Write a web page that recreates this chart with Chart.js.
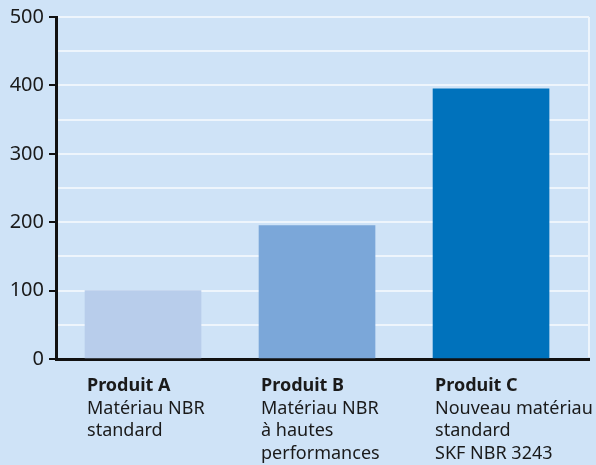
<!DOCTYPE html>
<html>
<head>
<meta charset="utf-8">
<script src="https://cdn.jsdelivr.net/npm/chart.js@4/dist/chart.umd.min.js"></script>
<style>
  html, body { margin: 0; padding: 0; background: #cfe3f7; }
  #wrap { width: 596px; height: 465px; position: relative; }
</style>
</head>
<body>
<div id="wrap"><canvas id="chart"></canvas></div>
<script>
const categories = ["Produit A", "Produit B", "Produit C"];
const descriptions = [
  ["Matériau NBR", "standard"],
  ["Matériau NBR", "à hautes", "performances"],
  ["Nouveau matériau", "standard", "SKF NBR 3243"]
];
const values = [100, 195, 395];
const yTicks = [0, 100, 200, 300, 400, 500];
const barColors = ["#b8cdeb", "#7ba7d9", "#0072bc"];

const FONT = "'Noto Sans', sans-serif";

// draws the two-style category labels and the white right edge
const extras = {
  id: "extras",
  afterDraw(chart) {
    const ctx = chart.ctx;
    const area = chart.chartArea;
    ctx.save();
    ctx.strokeStyle = "#eef5fc";
    ctx.lineWidth = 2;
    ctx.beginPath();
    ctx.moveTo(area.right, area.top);
    ctx.lineTo(area.right, area.bottom - 2);
    ctx.stroke();

    const meta = chart.getDatasetMeta(0);
    ctx.fillStyle = "#1a1a1a";
    ctx.textAlign = "left";
    ctx.textBaseline = "middle";
    categories.forEach((name, i) => {
      const bar = meta.data[i];
      const left = bar.x - bar.width / 2 + 2;
      let y = 386;
      ctx.font = "bold 18px " + FONT;
      ctx.fillText(name, left, y);
      ctx.font = "18px " + FONT;
      descriptions[i].forEach(line => {
        y += 22.5;
        ctx.fillText(line, left, y);
      });
    });
    ctx.restore();
  }
};

new Chart(document.getElementById("chart"), {
  type: "bar",
  data: {
    datasets: [{
      data: values.map((v, i) => ({ x: i, y: v })),
      backgroundColor: barColors,
      barThickness: 116
    }]
  },
  options: {
    responsive: true,
    maintainAspectRatio: false,
    animation: false,
    layout: { padding: { top: 14, right: 7, bottom: 106, left: 0 } },
    plugins: { legend: { display: false }, tooltip: { enabled: false } },
    scales: {
      x: {
        type: "linear",
        offset: false,
        min: -0.5,
        max: 2.563,
        ticks: { display: false },
        grid: { display: false },
        border: { color: "#111", width: 3 },
        afterFit: s => { s.height = 0; }
      },
      y: {
        min: 0,
        max: 500,
        ticks: {
          stepSize: 50,
          padding: 5,
          color: "#1a1a1a",
          font: { family: FONT, size: 20 },
          callback: v => yTicks.includes(v) ? v : ""
        },
        grid: {
          color: "#eef5fc",
          lineWidth: 2,
          tickLength: 7,
          tickColor: c => yTicks.includes(c.tick.value) ? "#111" : "rgba(0,0,0,0)",
          tickWidth: 2
        },
        border: { color: "#111", width: 3 },
        afterFit: s => { s.width = 56; }
      }
    }
  },
  plugins: [extras]
});
</script>
</body>
</html>
